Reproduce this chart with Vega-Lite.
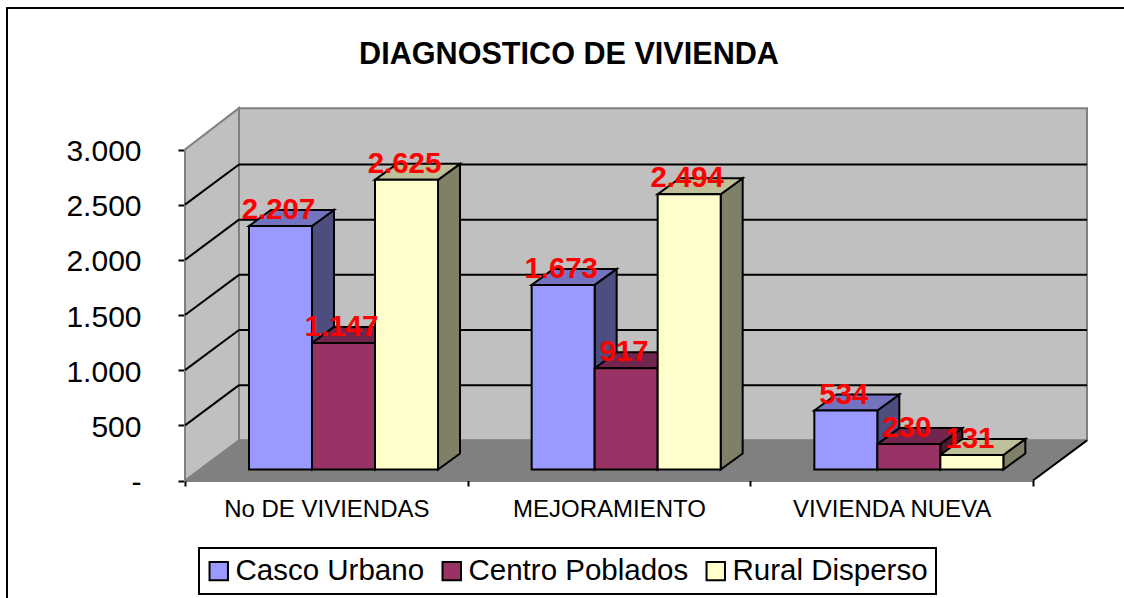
{
"$schema":"https://vega.github.io/schema/vega-lite/v6.json",
"autosize":"none",
"background":"white",
"width":1120,"height":610,
"padding":{"left":7,"top":8,"right":-3,"bottom":0},
"view":{"stroke":"#000000","strokeWidth":2,"fill":"white"},
"title":{"text":"DIAGNOSTICO DE VIVIENDA","font":"Liberation Sans","fontSize":30.6,"fontWeight":"bold","color":"#000000","anchor":"middle","frame":"group","dx":2,"dy":67},
"config":{"font":"Liberation Sans","legend":{"strokeWidth":2}},
"datasets":{
"barras":[
{"grupo":"No DE VIVIENDAS","serie":"Casco Urbano","valor":2207},
{"grupo":"No DE VIVIENDAS","serie":"Centro Poblados","valor":1147},
{"grupo":"No DE VIVIENDAS","serie":"Rural Disperso","valor":2625},
{"grupo":"MEJORAMIENTO","serie":"Casco Urbano","valor":1673},
{"grupo":"MEJORAMIENTO","serie":"Centro Poblados","valor":917},
{"grupo":"MEJORAMIENTO","serie":"Rural Disperso","valor":2494},
{"grupo":"VIVIENDA NUEVA","serie":"Casco Urbano","valor":534},
{"grupo":"VIVIENDA NUEVA","serie":"Centro Poblados","valor":230},
{"grupo":"VIVIENDA NUEVA","serie":"Rural Disperso","valor":131}
],
"rejilla":[{"nivel":500},{"nivel":1000},{"nivel":1500},{"nivel":2000},{"nivel":2500}]
},
"encoding":{
"x":{"field":"x","type":"quantitative","stack":null,"scale":{"domain":[0,3],"range":[178,1026],"nice":false,"zero":false},
"axis":{"title":null,"offset":-138,"orient":"bottom","values":[0,0.5,1,1.5,2,2.5,3],"grid":false,
"labelExpr":"datum.value==0.5?'No DE VIVIENDAS':datum.value==1.5?'MEJORAMIENTO':datum.value==2.5?'VIVIENDA NUEVA':''",
"labelFont":"Liberation Sans","labelFontSize":24,"labelColor":"#000000","labelPadding":11,"labelAngle":0,"labelOverlap":false,"labelFlush":false,"labelLimit":400,
"tickSize":6,"tickColor":"#000000","tickWidth":2,"domainColor":"#000000","domainWidth":2,
"tickOpacity":{"condition":{"test":"datum.value%1!==0","value":0},"value":1}}},
"y":{"field":"y","type":"quantitative","stack":null,"scale":{"domain":[0,3000],"range":[472.5,141.5],"nice":false,"zero":false},
"axis":{"title":null,"offset":-178,"orient":"left","values":[0,500,1000,1500,2000,2500,3000],"grid":false,
"labelExpr":"datum.value==0?'-':replace(format(datum.value,','),',','.')",
"labelFont":"Liberation Sans","labelFontSize":30,"labelColor":"#000000","labelPadding":37,"labelOffset":2,"labelOverlap":false,
"tickSize":7,"tickColor":"#000000","tickWidth":2,"domainColor":"#000000","domainWidth":2}}
},
"layer":[
{"data":{"values":[{"plano":"fondo"}]},
 "transform":[{"calculate":"0.191","as":"x"},{"calculate":"3.191","as":"x2"},{"calculate":"364","as":"y"},{"calculate":"3375","as":"y2"}],
 "mark":{"type":"rect","fill":"#C0C0C0","stroke":"#808080","strokeWidth":2},
 "encoding":{"x2":{"field":"x2"},"y2":{"field":"y2"}}},
{"data":{"values":[{"plano":"lateral"}]},
 "transform":[{"calculate":"[0,1]","as":"t"},{"flatten":["t"]},{"calculate":"datum.t*0.191","as":"x"},{"calculate":"datum.t*364","as":"y"},{"calculate":"3000+datum.t*375","as":"y2"}],
 "mark":{"type":"area","orient":"vertical","fill":"#C0C0C0","stroke":"#808080","strokeWidth":2},
 "encoding":{"y2":{"field":"y2"}}},
{"data":{"values":[{"plano":"suelo"}]},
 "transform":[{"calculate":"[0,1]","as":"t"},{"flatten":["t"]},{"calculate":"datum.t*0.191","as":"x"},{"calculate":"3+datum.t*0.191","as":"x2"},{"calculate":"datum.t*364","as":"y"}],
 "mark":{"type":"area","orient":"horizontal","fill":"#808080","stroke":"#808080","strokeWidth":1},
 "encoding":{"x2":{"field":"x2"}}},
{"data":{"name":"rejilla"},
 "transform":[{"calculate":"0.191","as":"x"},{"calculate":"3.191","as":"x2"},{"calculate":"datum.nivel+364","as":"y"}],
 "mark":{"type":"rule","color":"#000000","strokeWidth":2},
 "encoding":{"x2":{"field":"x2"}}},
{"data":{"name":"rejilla"},
 "transform":[{"calculate":"0","as":"x"},{"calculate":"0.191","as":"x2"},{"calculate":"datum.nivel","as":"y"},{"calculate":"datum.nivel+364","as":"y2"}],
 "mark":{"type":"rule","color":"#000000","strokeWidth":2},
 "encoding":{"x2":{"field":"x2"},"y2":{"field":"y2"}}},
{"data":{"values":[{"borde":"frente"}]},
 "transform":[{"calculate":"3","as":"x"},{"calculate":"3.191","as":"x2"},{"calculate":"0","as":"y"},{"calculate":"364","as":"y2"}],
 "mark":{"type":"rule","color":"#000000","strokeWidth":2},
 "encoding":{"x2":{"field":"x2"},"y2":{"field":"y2"}}},
{"data":{"name":"barras"},
 "transform":[
  {"calculate":"indexof(['No DE VIVIENDAS','MEJORAMIENTO','VIVIENDA NUEVA'],datum.grupo)","as":"i"},
  {"calculate":"indexof(['Casco Urbano','Centro Poblados','Rural Disperso'],datum.serie)","as":"j"},
  {"calculate":"[0,1]","as":"t"},{"flatten":["t"]},
  {"calculate":"datum.i+0.2264+(datum.j+1)*0.2229+datum.t*0.0778","as":"x"},
  {"calculate":"datum.valor+100+datum.t*145","as":"y"},
  {"calculate":"100+datum.t*145","as":"y2"}],
 "mark":{"type":"area","orient":"vertical","stroke":"#000000","strokeWidth":2},
 "encoding":{"y2":{"field":"y2"},"detail":{"field":"grupo"},
  "color":{"field":"serie","type":"nominal","legend":null,"scale":{"domain":["Casco Urbano","Centro Poblados","Rural Disperso"],"range":["#4D4D80","#4D1A33","#808066"]}}}},
{"data":{"name":"barras"},
 "transform":[
  {"calculate":"indexof(['No DE VIVIENDAS','MEJORAMIENTO','VIVIENDA NUEVA'],datum.grupo)","as":"i"},
  {"calculate":"indexof(['Casco Urbano','Centro Poblados','Rural Disperso'],datum.serie)","as":"j"},
  {"calculate":"[0,1]","as":"t"},{"flatten":["t"]},
  {"calculate":"datum.i+0.2264+datum.j*0.2229+datum.t*0.0778","as":"x"},
  {"calculate":"datum.i+0.2264+(datum.j+1)*0.2229+datum.t*0.0778","as":"x2"},
  {"calculate":"datum.valor+100+datum.t*145","as":"y"}],
 "mark":{"type":"area","orient":"horizontal","stroke":"#000000","strokeWidth":2},
 "encoding":{"x2":{"field":"x2"},"detail":{"field":"grupo"},
  "color":{"field":"serie","type":"nominal","legend":null,"scale":{"domain":["Casco Urbano","Centro Poblados","Rural Disperso"],"range":["#7373BF","#73264D","#BFBF99"]}}}},
{"data":{"name":"barras"},
 "transform":[
  {"calculate":"indexof(['No DE VIVIENDAS','MEJORAMIENTO','VIVIENDA NUEVA'],datum.grupo)","as":"i"},
  {"calculate":"indexof(['Casco Urbano','Centro Poblados','Rural Disperso'],datum.serie)","as":"j"},
  {"calculate":"datum.i+0.2264+datum.j*0.2229","as":"x"},
  {"calculate":"datum.x+0.2229","as":"x2"},
  {"calculate":"datum.valor+100","as":"y"},
  {"calculate":"100","as":"y2"}],
 "mark":{"type":"rect","stroke":"#000000","strokeWidth":2},
 "encoding":{"x2":{"field":"x2"},"y2":{"field":"y2"},
  "color":{"field":"serie","type":"nominal","title":null,"scale":{"domain":["Casco Urbano","Centro Poblados","Rural Disperso"],"range":["#9999FF","#993366","#FFFFCC"]},
   "legend":{"orient":"none","direction":"horizontal","legendX":192,"legendY":540,"title":null,"columns":3,"symbolType":"square","symbolSize":340,"symbolStrokeColor":"#000000","symbolStrokeWidth":2,"symbolOpacity":1,"labelFont":"Liberation Sans","labelFontSize":29.5,"labelColor":"#000000","labelLimit":300,"labelOffset":2,"columnPadding":13,"padding":8,"strokeColor":"#000000","fillColor":"#FFFFFF","symbolOffset":-3}}}},
{"data":{"name":"barras"},
 "transform":[
  {"calculate":"indexof(['No DE VIVIENDAS','MEJORAMIENTO','VIVIENDA NUEVA'],datum.grupo)","as":"i"},
  {"calculate":"indexof(['Casco Urbano','Centro Poblados','Rural Disperso'],datum.serie)","as":"j"},
  {"calculate":"datum.i+0.2264+(datum.j+0.5)*0.2229-0.007","as":"x"},
  {"calculate":"datum.valor+100","as":"y"},
  {"calculate":"replace(format(datum.valor,','),',','.')","as":"etiqueta"}],
 "mark":{"type":"text","font":"Liberation Sans","fontSize":29.4,"fontWeight":"bold","color":"#FF0000","align":"center","baseline":"alphabetic","dy":-7},
 "encoding":{"text":{"field":"etiqueta","type":"nominal"}}}
],
"resolve":{"scale":{"color":"independent"}}
}
